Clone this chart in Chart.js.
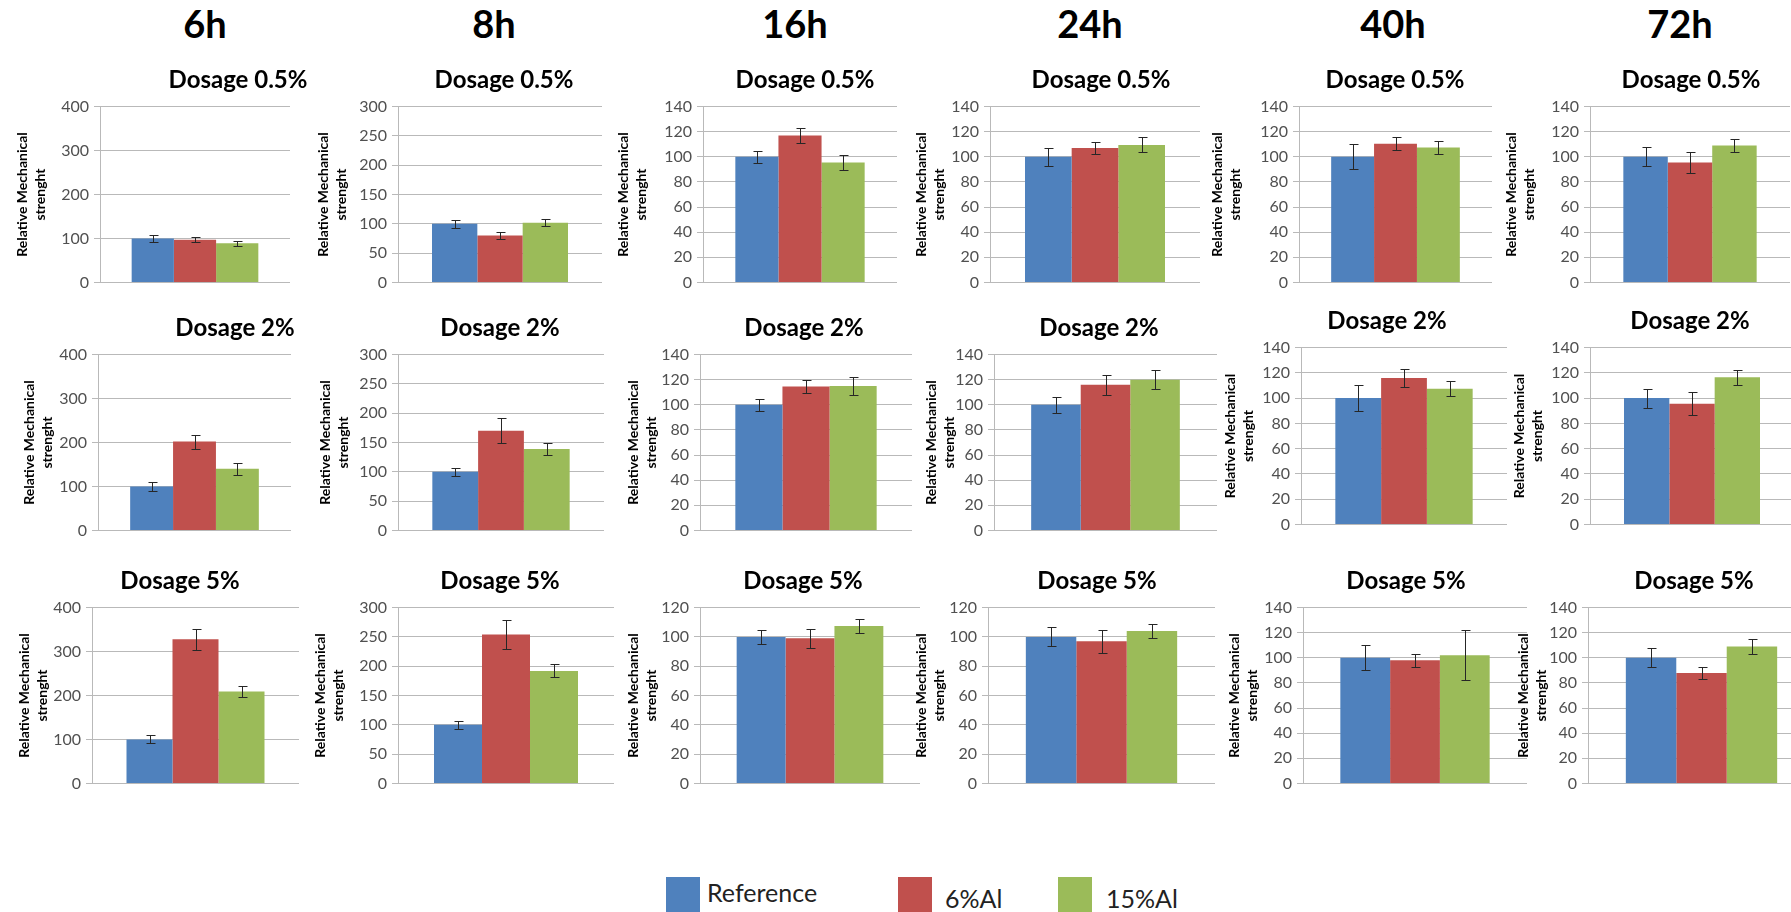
<!DOCTYPE html>
<html>
<head>
<meta charset="utf-8">
<script src="https://cdn.jsdelivr.net/npm/chart.js@4"></script>
<style>
  html, body { margin: 0; padding: 0; background: #fff; }
  body { width: 1791px; height: 912px; overflow: hidden; position: relative; font-family: Lato, "Open Sans", sans-serif; }
  canvas { position: absolute; }
  .lbl { position: absolute; white-space: nowrap; line-height: 1.2; color: #000; transform: translateX(-50%); }
  .head { font-size: 38px; font-weight: bold; }
  .dose { font-size: 24px; font-weight: bold; }
  .key { position: absolute; width: 34px; height: 36px; }
  .keytxt { position: absolute; font-size: 25px; line-height: 1.2; color: #222; white-space: nowrap; }
</style>
</head>
<body>
<script>
"use strict";

// data: rows are dosages, columns are times
const times = ["6h", "8h", "16h", "24h", "40h", "72h"];
const dosages = ["Dosage 0.5%", "Dosage 2%", "Dosage 5%"];
const seriesNames = ["Reference", "6%Al", "15%Al"];

const referenceValues = [
	[100, 100, 100, 100, 100, 100],
	[100, 100, 100, 100, 100, 100],
	[100, 100, 100, 100, 100, 100]
];
const al6Values = [
	[97, 80, 117, 107, 110.5, 95.5],
	[202, 170, 114.5, 116, 116, 95.5],
	[328, 254, 99, 97, 98, 88]
];
const al15Values = [
	[89, 102, 95.5, 109.5, 107.5, 109],
	[140, 139, 115, 120, 107.5, 116.5],
	[209, 192, 107.5, 104, 102, 109]
];

const referenceErrors = [
	[8, 7, 5, 7, 10, 7.5],
	[10, 7, 5, 6.5, 10, 7.5],
	[9, 7, 5, 6.5, 10, 7.5]
];
const al6Errors = [
	[6, 6, 6, 5, 5, 8],
	[16, 21, 5, 8, 7, 9],
	[24, 24, 6.5, 8, 5, 4.5]
];
const al15Errors = [
	[6, 6, 6, 6, 5, 5.5],
	[13, 10, 7.5, 7.5, 6, 6],
	[12, 11, 5, 5, 20, 6]
];

// y axis ticks
const axisMax = [
	[400, 300, 140, 140, 140, 140],
	[400, 300, 140, 140, 140, 140],
	[400, 300, 120, 120, 140, 140]
];
const axisStep = [
	[100, 50, 20, 20, 20, 20],
	[100, 50, 20, 20, 20, 20],
	[100, 50, 20, 20, 20, 20]
];

const yTitle = ["Relative Mechanical", "strenght"];
const colors = ["#4F81BD", "#C0504D", "#9BBB59"];
const gridColor = "#b9b9b9";

// plot boxes in page pixels: [axis x, right x, top y, bottom y, y title x]
const plotBoxes = [
	[[100, 290, 102, 287, 22], [398, 602, 102, 287, 323], [703, 897, 102, 287, 623],
	 [990, 1200, 102, 287, 921], [1299, 1492, 102, 287, 1217], [1590, 1790, 102, 287, 1511]],
	[[98, 291, 350, 535, 29], [398, 604, 350, 535, 325], [700, 912, 350, 535, 633],
	 [994, 1217, 350, 535, 931], [1301, 1507, 343, 529, 1230], [1590, 1794, 343, 529, 1519]],
	[[92, 299, 603, 788, 24], [398, 614, 603, 788, 320], [700, 920, 603, 788, 633],
	 [988, 1215, 603, 788, 921], [1303, 1527, 603, 788, 1234], [1588, 1815, 603, 788, 1523]]
];
// dosage title centre x and baseline y
const titleX = [
	[238, 504, 805, 1101, 1395, 1691],
	[235, 500, 804, 1099, 1387, 1690],
	[180, 500, 803, 1097, 1406, 1694]
];
const titleBase = [
	[89, 89, 89, 89, 89, 89],
	[337, 337, 337, 337, 330, 330],
	[590, 590, 590, 590, 590, 590]
];
const headX = [205, 494, 795, 1090, 1393, 1680];

const errorBars = {
	id: "errorBars",
	afterDatasetsDraw(chart) {
		const ctx = chart.ctx;
		const yScale = chart.scales.y;
		ctx.save();
		ctx.strokeStyle = "#262626";
		ctx.lineWidth = 1;
		chart.data.datasets.forEach((ds, i) => {
			chart.getDatasetMeta(i).data.forEach((bar, j) => {
				const v = ds.data[j], e = ds.errors[j];
				const x = Math.round(bar.x) + 0.5;
				const top = Math.round(yScale.getPixelForValue(v + e)) + 0.5;
				const bot = Math.round(yScale.getPixelForValue(v - e)) + 0.5;
				ctx.beginPath();
				ctx.moveTo(x, top); ctx.lineTo(x, bot);
				ctx.moveTo(x - 4, top); ctx.lineTo(x + 5, top);
				ctx.moveTo(x - 4, bot); ctx.lineTo(x + 5, bot);
				ctx.stroke();
			});
		});
		ctx.restore();
	}
};

function addLabel(text, cls, x, baseline, size) {
	const d = document.createElement("div");
	d.className = "lbl " + cls;
	d.textContent = text;
	d.style.left = x + "px";
	d.style.top = Math.round(baseline - 0.987 * size) + "px";
	document.body.appendChild(d);
}

times.forEach((t, c) => addLabel(t, "head", headX[c], 39, 38));

const padTop = 10, padBottom = 10;
dosages.forEach((dose, r) => {
	times.forEach((t, c) => {
		const [axisX, right, top, bottom, titleCx] = plotBoxes[r][c];
		const left = titleCx - 13;
		const yWidth = axisX - left;
		const canvas = document.createElement("canvas");
		canvas.width = right - left;
		canvas.height = bottom - top + padTop + padBottom;
		canvas.style.left = left + "px";
		canvas.style.top = (top - padTop) + "px";
		document.body.appendChild(canvas);

		const values = [referenceValues[r][c], al6Values[r][c], al15Values[r][c]];
		const errors = [referenceErrors[r][c], al6Errors[r][c], al15Errors[r][c]];

		new Chart(canvas, {
			type: "bar",
			data: {
				labels: [t],
				datasets: seriesNames.map((name, s) => ({
					label: name,
					data: [values[s]],
					errors: [errors[s]],
					backgroundColor: colors[s],
					borderWidth: 0,
					barPercentage: 1,
					categoryPercentage: 3 / 4.5
				}))
			},
			options: {
				responsive: false,
				animation: false,
				events: [],
				layout: { padding: { top: padTop, left: 0, right: 0, bottom: 0 } },
				plugins: {
					legend: { display: false },
					tooltip: { enabled: false }
				},
				scales: {
					x: {
						ticks: { display: false },
						grid: { display: false },
						border: { color: gridColor },
						afterFit: (s) => { s.height = padBottom; }
					},
					y: {
						min: 0,
						max: axisMax[r][c],
						ticks: {
							stepSize: axisStep[r][c],
							color: "#505050",
							padding: 5,
							font: { family: "Lato", size: 16 }
						},
						grid: { color: gridColor, tickLength: 6 },
						border: { color: gridColor },
						title: {
							display: true,
							text: yTitle,
							color: "#000",
							padding: { top: 4, bottom: 4 },
							font: { family: "Lato", size: 14, weight: "bold", lineHeight: 1.3 }
						},
						afterFit: (s) => { s.width = yWidth; }
					}
				}
			},
			plugins: [errorBars]
		});

		addLabel(dose, "dose", titleX[r][c], titleBase[r][c], 24);
	});
});

// legend
const keyX = [666, 898, 1058];
const keyTextX = [707, 945, 1106];
const keyTextBase = [902, 908, 908];
seriesNames.forEach((name, s) => {
	const sq = document.createElement("div");
	sq.className = "key";
	sq.style.left = keyX[s] + "px";
	sq.style.top = "877px";
	sq.style.background = colors[s];
	document.body.appendChild(sq);
	const tx = document.createElement("div");
	tx.className = "keytxt";
	tx.textContent = name;
	tx.style.left = keyTextX[s] + "px";
	tx.style.top = Math.round(keyTextBase[s] - 0.987 * 25) + "px";
	document.body.appendChild(tx);
});
</script>
</body>
</html>
